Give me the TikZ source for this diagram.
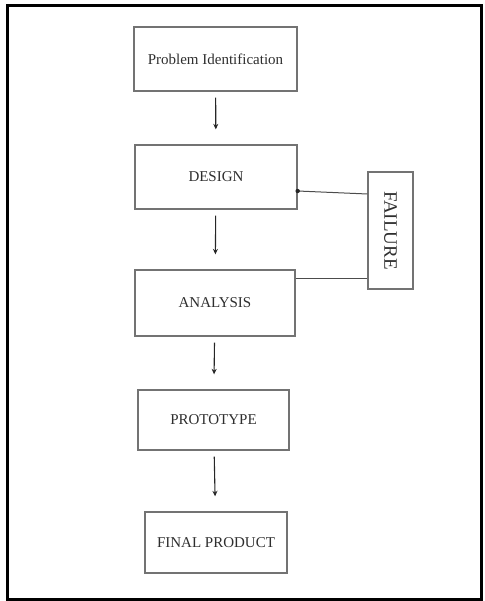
\documentclass[tikz,border=0pt]{standalone}
\usepackage{fontspec}
\setmainfont{Liberation Serif}
\usetikzlibrary{calc,arrows.meta}

\tikzset{
  stage/.style={draw=black!55,line width=1.3pt,text=black!82,inner sep=0pt,font=\fontsize{15}{17}\selectfont},
  flow/.style={draw=black!85,line width=1.1pt,-{Stealth[length=5.5pt,width=5pt]}},
  link/.style={draw=black!70,line width=1pt}
}

\begin{document}
\begin{tikzpicture}[x=1pt,y=-1pt]
\useasboundingbox (0,0) rectangle (484,601);
\draw[line width=3pt] (7.5,5.5) rectangle (481.5,599.5);

% main stages, top to bottom
\node[stage,minimum width=163pt,minimum height=64pt] (prob) at (215.5,59) {Problem Identification};
\node[stage,minimum width=162pt,minimum height=64pt] (design) at (216,177) {DESIGN};
\node[stage,minimum width=160pt,minimum height=66pt] (analysis) at (215,303) {ANALYSIS};
\node[stage,minimum width=151pt,minimum height=60pt] (proto) at (213.5,420) {PROTOTYPE};
\node[stage,minimum width=142pt,minimum height=61pt] (final) at (216,542.5) {FINAL PRODUCT};

% feedback box
\node[stage,minimum width=45pt,minimum height=117pt,font=\fontsize{19}{21}\selectfont] (fail) at (390.5,230.5) {\rotatebox{-90}{FAILURE}};

\foreach \a/\b in {prob/design,design/analysis,analysis/proto,proto/final}
  \draw[flow,shorten <=6pt,shorten >=15pt] (\a) -- (\b);

\coordinate (desout) at ($(design.east)+(0,14)$);
\coordinate (anlout) at ($(analysis.east)+(0,-25)$);
\draw[link] (desout) -- ($(fail.west)+(0,-36.5)$);
\fill[black!85] (desout) circle (2.2pt);
\draw[link] (anlout) -- (anlout -| fail.west);
\end{tikzpicture}
\end{document}
